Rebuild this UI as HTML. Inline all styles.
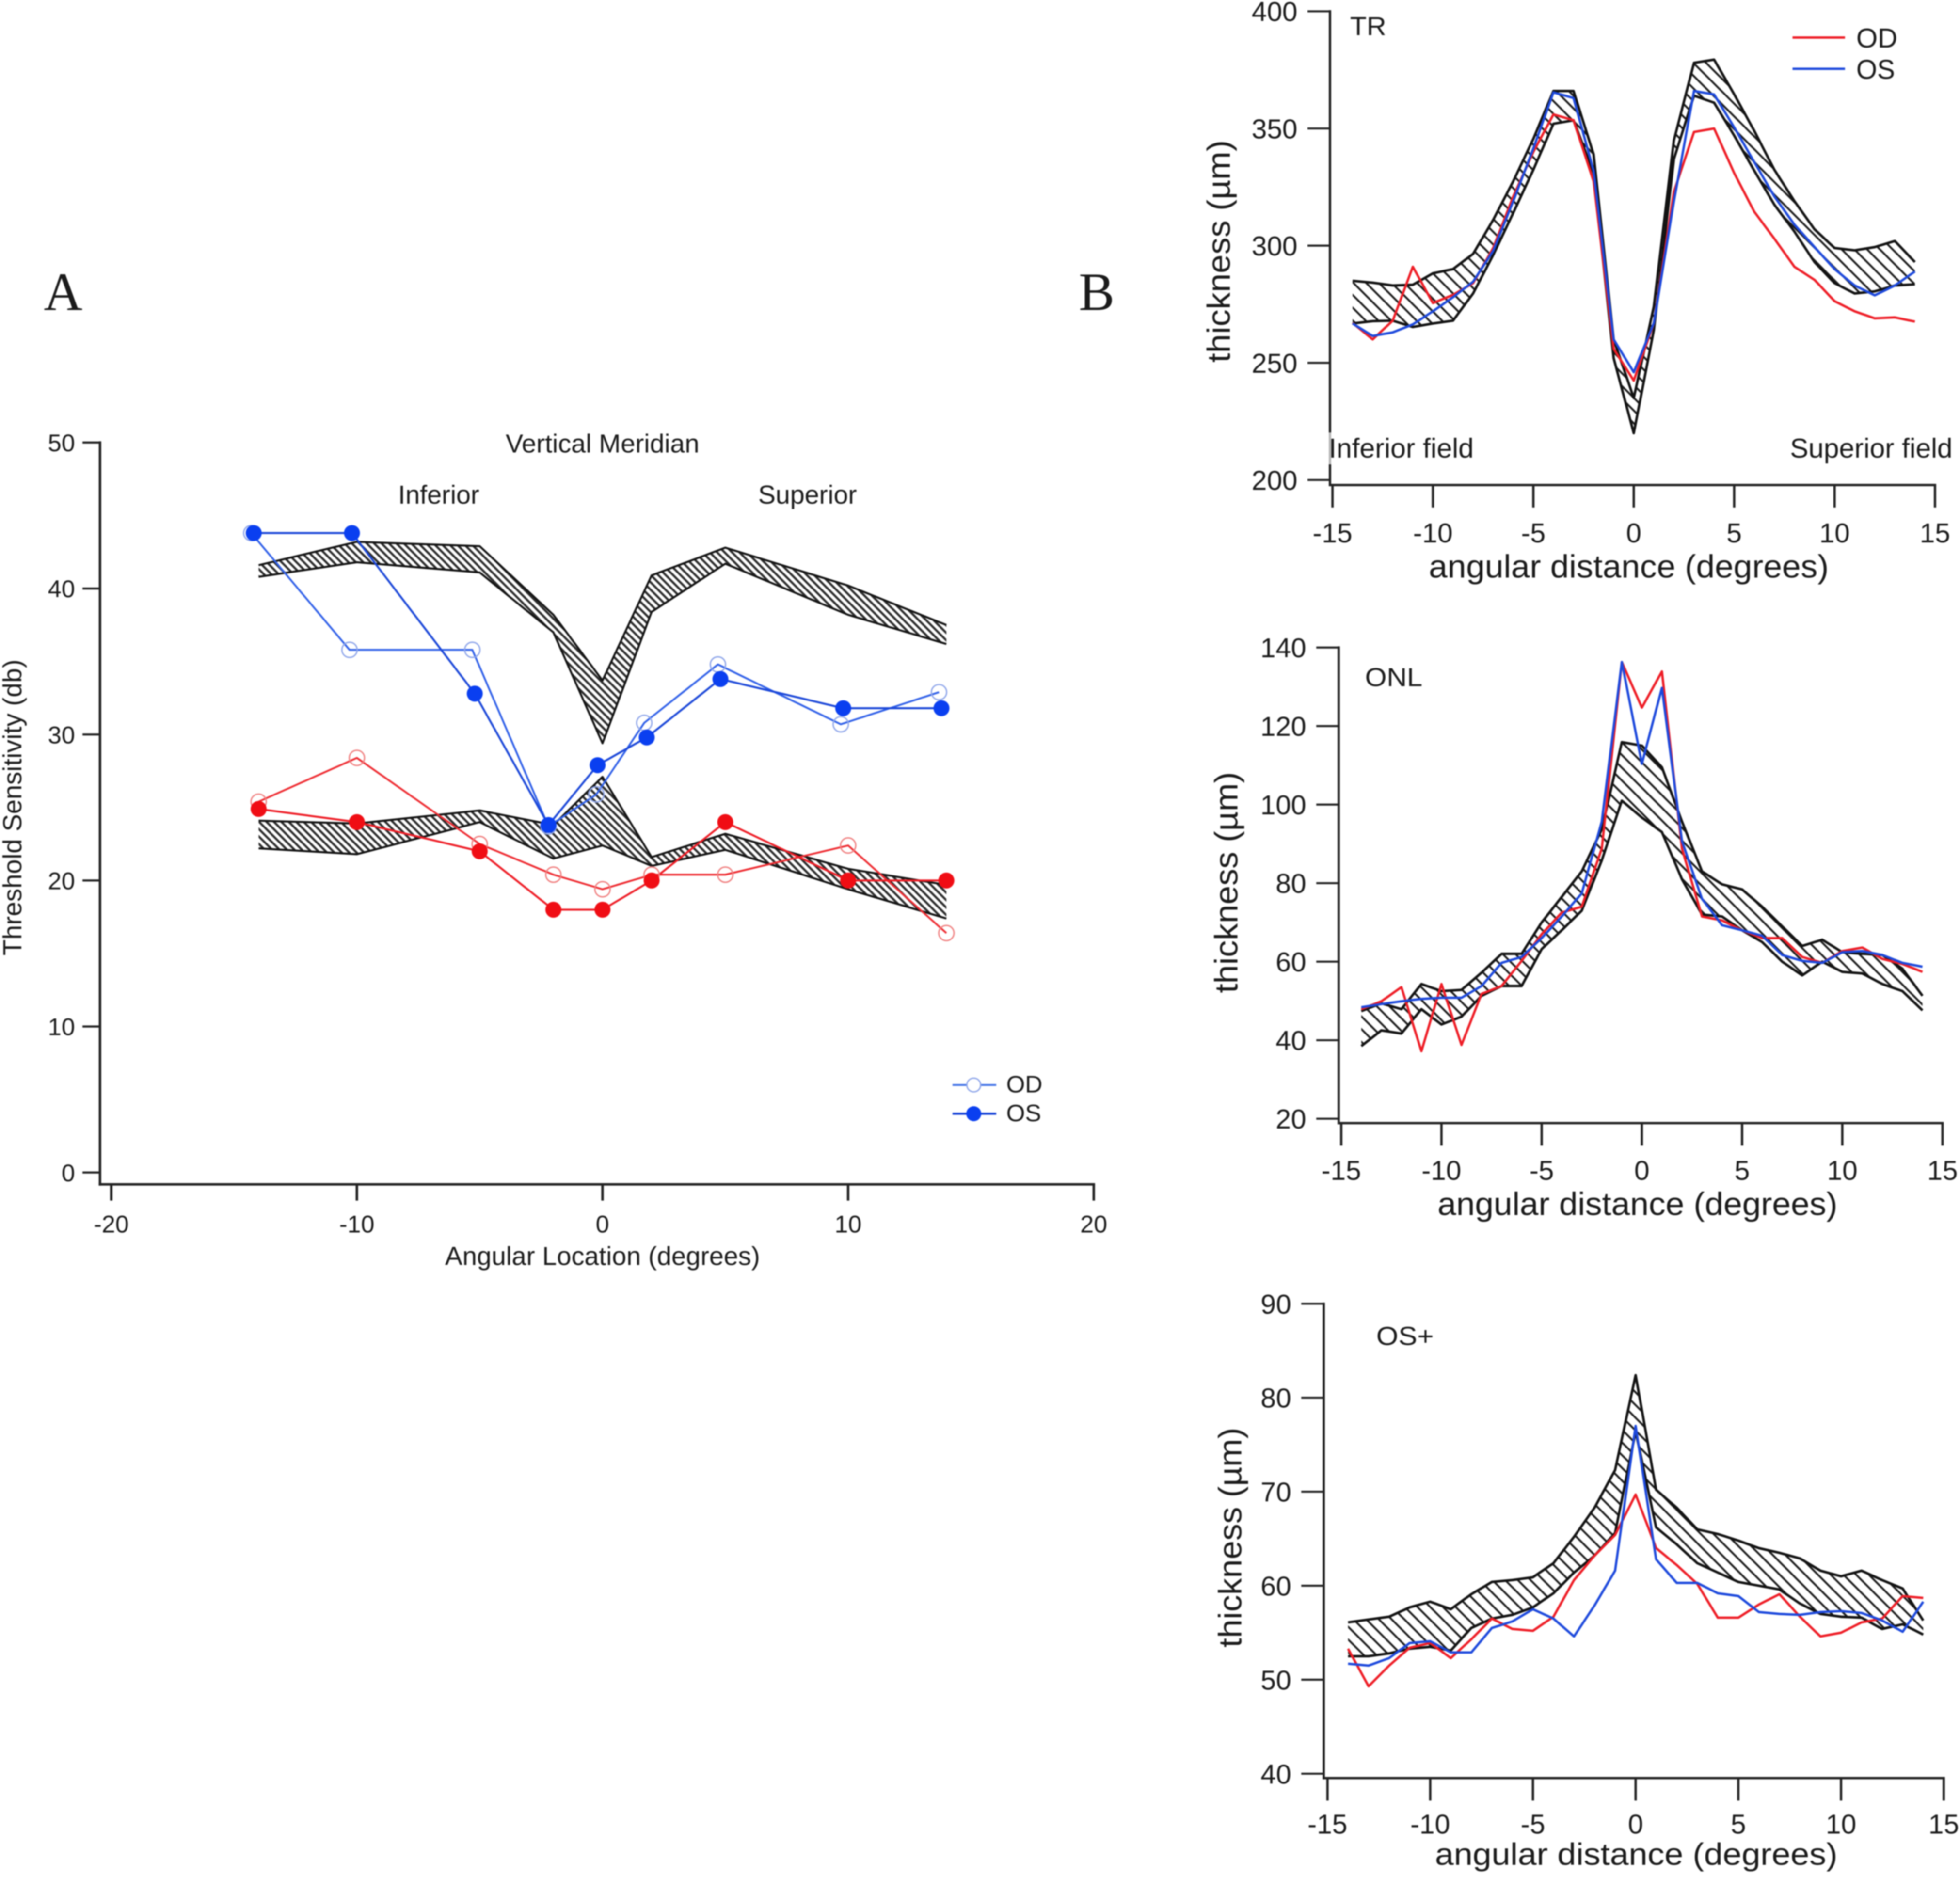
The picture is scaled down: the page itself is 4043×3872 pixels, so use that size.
<!DOCTYPE html>
<html lang="en">
<head>
<meta charset="utf-8">
<title>Threshold sensitivity and retinal thickness</title>
<style>
html,body{margin:0;padding:0;background:#fff;}
#figure{display:block;width:4043px;height:3872px;filter:blur(1.4px);}
text{font-family:"Liberation Sans",Arial,sans-serif;fill:#1a1a1a;}
</style>
</head>
<body>
<svg id="figure" xmlns="http://www.w3.org/2000/svg" width="4043" height="3872" viewBox="0 0 1568 1501.6">
  <defs>
    <pattern id="hatch-fine" width="4.2" height="4.2" patternUnits="userSpaceOnUse" patternTransform="rotate(-45)">
      <rect x="0" y="0" width="1.75" height="4.2" fill="#2a2a2a"></rect>
    </pattern>
    <pattern id="hatch-wide" width="7.2" height="7.2" patternUnits="userSpaceOnUse" patternTransform="rotate(-45)">
      <rect x="0" y="0" width="1.55" height="7.2" fill="#1a1a1a"></rect>
    </pattern>
  </defs>
  <rect x="0" y="0" width="1568" height="1501.6" fill="#fff"></rect>

  <text x="35" y="248" font-size="43" style="font-family:'Liberation Serif',serif">A</text>
  <text x="863" y="248" font-size="43" style="font-family:'Liberation Serif',serif">B</text>

  <g id="panel-a"></g>
  <g id="panel-tr"></g>
  <g id="panel-onl"></g>
  <g id="panel-os"></g>

  <text x="482" y="362" font-size="21" text-anchor="middle" textLength="155" lengthAdjust="spacingAndGlyphs">Vertical Meridian</text>
  <text x="351" y="403" font-size="21" text-anchor="middle" textLength="65" lengthAdjust="spacingAndGlyphs">Inferior</text>
  <text x="646" y="403" font-size="21" text-anchor="middle" textLength="79" lengthAdjust="spacingAndGlyphs">Superior</text>
  <text transform="translate(17,646) rotate(-90)" font-size="21" text-anchor="middle" textLength="237" lengthAdjust="spacingAndGlyphs">Threshold Sensitivity (db)</text>
  <text x="482" y="1012" font-size="21" text-anchor="middle" textLength="252" lengthAdjust="spacingAndGlyphs">Angular Location (degrees)</text>

  <line x1="762" x2="797" y1="868" y2="868" stroke="#3f6fe6" stroke-width="1.5"></line>
  <circle cx="779" cy="868" r="5.5" fill="#fff" stroke="#8fa6ea" stroke-width="1.1"></circle>
  <text x="805" y="874" font-size="19" textLength="29" lengthAdjust="spacingAndGlyphs">OD</text>
  <line x1="762" x2="797" y1="891" y2="891" stroke="#1a46d8" stroke-width="1.7"></line>
  <circle cx="779" cy="891" r="6" fill="#0a3ff0"></circle>
  <text x="805" y="897" font-size="19" textLength="28" lengthAdjust="spacingAndGlyphs">OS</text>

  <text x="1080" y="28" font-size="21" textLength="29" lengthAdjust="spacingAndGlyphs">TR</text>
  <rect x="1062" y="346" width="118" height="25.5" fill="#fff" fill-opacity="0.68"></rect>
  <text x="1063" y="366" font-size="22" textLength="116" lengthAdjust="spacingAndGlyphs">Inferior field</text>
  <text x="1432" y="366" font-size="22" textLength="130" lengthAdjust="spacingAndGlyphs">Superior field</text>
  <line x1="1434" x2="1476" y1="30" y2="30" stroke="#ee1c25" stroke-width="1.9"></line>
  <text x="1485" y="38" font-size="22" textLength="33" lengthAdjust="spacingAndGlyphs">OD</text>
  <line x1="1434" x2="1476" y1="55" y2="55" stroke="#1c48dc" stroke-width="1.9"></line>
  <text x="1485" y="63" font-size="22" textLength="31" lengthAdjust="spacingAndGlyphs">OS</text>

  <text x="1092" y="549" font-size="21" textLength="46" lengthAdjust="spacingAndGlyphs">ONL</text>
  <text x="1101" y="1076" font-size="21" textLength="46" lengthAdjust="spacingAndGlyphs">OS+</text>

  <text x="1303" y="462" font-size="26" text-anchor="middle" textLength="320" lengthAdjust="spacingAndGlyphs">angular distance (degrees)</text>
  <text transform="translate(984,201) rotate(-90)" font-size="26" text-anchor="middle" textLength="178" lengthAdjust="spacingAndGlyphs">thickness (µm)</text>
  <text x="1310" y="972" font-size="26" text-anchor="middle" textLength="320" lengthAdjust="spacingAndGlyphs">angular distance (degrees)</text>
  <text transform="translate(990,706) rotate(-90)" font-size="26" text-anchor="middle" textLength="177" lengthAdjust="spacingAndGlyphs">thickness (µm)</text>
  <text x="1309" y="1492" font-size="25" text-anchor="middle" textLength="322" lengthAdjust="spacingAndGlyphs">angular distance (degrees)</text>
  <text transform="translate(993,1230) rotate(-90)" font-size="26" text-anchor="middle" textLength="176" lengthAdjust="spacingAndGlyphs">thickness (µm)</text>
</svg>

<script>
/* ---------- Panel A data ---------- */
const sensXTicks = [-20, -10, 0, 10, 20];
const sensYTicks = [0, 10, 20, 30, 40, 50];
const bandX = [-14, -10, -5, -2, 0, 2, 5, 10, 14];
const highBandUpper = [41.6, 43.2, 42.9, 38.2, 33.7, 40.9, 42.8, 40.2, 37.5];
const highBandLower = [40.8, 41.8, 41.1, 37.0, 29.4, 38.4, 41.7, 38.2, 36.2];
const lowBandUpper = [24.1, 23.9, 24.8, 23.8, 27.1, 21.6, 23.2, 20.8, 19.7];
const lowBandLower = [22.2, 21.8, 24.0, 21.5, 22.4, 21.0, 22.1, 19.4, 17.4];
const blueOdX = [-14.3, -10.3, -5.3, -2.2, -0.25, 1.7, 4.7, 9.7, 13.7];
const blueOdY = [43.8, 35.8, 35.8, 23.7, 25.9, 30.8, 34.8, 30.7, 32.9];
const blueOsX = [-14.2, -10.2, -5.2, -2.2, -0.2, 1.8, 4.8, 9.8, 13.8];
const blueOsY = [43.8, 43.8, 32.8, 23.8, 27.9, 29.8, 33.8, 31.8, 31.8];
const redOdX = [-14, -10, -5, -2, 0, 2, 5, 10, 14];
const redOdY = [25.4, 28.4, 22.5, 20.4, 19.4, 20.4, 20.4, 22.4, 16.4];
const redOsX = [-14, -10, -5, -2, 0, 2, 5, 10, 14];
const redOsY = [24.9, 24.0, 22.0, 18.0, 18.0, 20.0, 24.0, 20.0, 20.0];

/* ---------- Panel B shared ---------- */
const degrees = [-14,-13,-12,-11,-10,-9,-8,-7,-6,-5,-4,-3,-2,-1,0,1,2,3,4,5,6,7,8,9,10,11,12,13,14];
const thicknessXTicks = [-15, -10, -5, 0, 5, 10, 15];

/* ---------- TR ---------- */
const trYTicks = [200, 250, 300, 350, 400];
const trUpper = [285,284.2,283,283.3,288.2,290,296.5,311,327.5,345.6,366,366,339,260,235,274,345,378,379.4,364.6,349,332.4,319,307,299,298,299.4,302,293];
const trLower = [266.8,267.8,268,265.3,266.8,268,279.6,296,314,332.4,352,353.5,331,252,220,264,337,364,361,347,332,317.5,306,293,284,279.6,280.5,283,283.5];
const trRed = [267,260,268,291,275.5,279,284,299,321,340,356,353.5,327.5,256,242.4,267,323,348.5,350,331,314.5,303,291,285.4,276.3,272,269,269.4,267.6];
const trBlue = [266.8,261.5,263,266.4,272,278,284.6,297.8,319,341.5,365.4,363,332,260,246,267,319,366,364.5,350.5,335.7,321,309,299.4,290,283,278.8,283,289];

/* ---------- ONL ---------- */
const onlYTicks = [20, 40, 60, 80, 100, 120, 140];
const onlUpper = [47.4,49.4,47.9,54.3,52.5,52.8,57.2,62,62,70,76.5,83,93.7,115.9,115,109.5,95.7,83,79.7,78.4,74,69,64,65.6,62.4,62,61.7,58.2,51.3];
const onlLower = [38.5,42.5,41.7,47.9,44,46,51.3,53.8,53.8,63.2,68,73,85.8,101,96.7,93,81,72,71.5,68,65,60,56.5,60,57.4,57,54.3,52.5,47.6];
const onlRed = [47.9,49.9,53.5,37.2,54.3,38.8,51.8,53.8,60.2,67,72.5,74,88.8,136.3,124.7,133.9,88.8,71.5,70.5,68,66,66,61.2,59.7,62.7,63.6,60.7,59.4,57.4];
const onlBlue = [48.4,49.2,49.9,50.5,50.8,50.8,53.8,59.7,61.2,66,71.5,77.4,95.7,136.3,110.4,129.7,90.7,76,69.3,68,66.6,61.7,60.2,59.7,62.4,62.7,61.7,59.7,58.7];

/* ---------- OS+ ---------- */
const osYTicks = [40, 50, 60, 70, 80, 90];
const osUpper = [56.1,56.4,56.7,57.7,58.3,57.5,59.1,60.4,60.6,60.9,62.4,65.2,68.3,72.3,82.4,70.2,68.3,66,65.5,64.8,64,63.5,62.9,61.6,61,61.6,60.6,59.7,56.3];
const osLower = [52.5,52.5,52.8,53.3,53.5,53.1,55.5,56.5,56.9,57.7,59.2,61.4,63.2,65.6,76.4,66.2,64.4,62.4,61.4,60.4,60,59.6,58.1,57,56.7,56.6,55.4,55.9,54.8];
const osRed = [53.3,49.3,51.5,53.4,53.9,52.3,54.3,56.5,55.4,55.2,56.7,60.6,63.2,65.4,69.7,64,62.2,60.2,56.6,56.6,58,59.1,56.7,54.6,55,56.1,56.5,58.9,58.7];
const osBlue = [51.7,51.5,52.3,53.9,54.1,52.9,52.9,55.5,56.2,57.5,56.5,54.6,57.9,61.6,77,62.8,60.3,60.3,59.2,58.9,57.2,57,56.9,57.2,57.3,57.1,56.3,55.1,58.3];

const SVGNS = 'http://www.w3.org/2000/svg';
function linear(d0, d1, r0, r1) {
  return function (v) { return r0 + (v - d0) * (r1 - r0) / (d1 - d0); };
}
function shape(parent, tag, attrs) {
  const el = document.createElementNS(SVGNS, tag);
  for (const k in attrs) el.setAttribute(k, attrs[k]);
  parent.appendChild(el);
  return el;
}
function pts(xs, ys, sx, sy) {
  return xs.map(function (x, i) { return sx(x).toFixed(2) + ',' + sy(ys[i]).toFixed(2); }).join(' ');
}

function drawAxes(g, opt) {
  const half = opt.axisW / 2;
  const yAxis = shape(g, 'line', {x1: opt.axisX, x2: opt.axisX, y1: opt.sy(opt.yTicks[opt.yTicks.length - 1]) - half, y2: opt.axisY + half, stroke: '#222', 'stroke-width': opt.axisW});
  
  
  const xAxis = shape(g, 'line', {x1: opt.axisX - half, x2: opt.sx(opt.xTicks[opt.xTicks.length - 1]) + half, y1: opt.axisY, y2: opt.axisY, stroke: '#222', 'stroke-width': opt.axisW});
  
  
  opt.yTicks.forEach(function (t) {
    const tick = shape(g, 'line', {x1: opt.axisX - opt.yTickLen, x2: opt.axisX, y1: opt.sy(t), y2: opt.sy(t), stroke: '#222', 'stroke-width': opt.axisW * 0.85});
    
    
    const label = shape(g, 'text', {x: opt.axisX - opt.yLabelGap, y: opt.sy(t) + opt.font * 0.36, 'font-size': opt.font, 'text-anchor': 'end'});
    
    
    label.textContent = t;
  });
  opt.xTicks.forEach(function (t) {
    const tick = shape(g, 'line', {x1: opt.sx(t), x2: opt.sx(t), y1: opt.axisY, y2: opt.axisY + opt.xTickLen, stroke: '#222', 'stroke-width': opt.axisW});
    
    
    const label = shape(g, 'text', {x: opt.sx(t), y: opt.xLabelY, 'font-size': opt.font, 'text-anchor': 'middle'});
    
    
    label.textContent = t;
  });
}

function drawBand(g, xs, upper, lower, sx, sy, hatch, w) {
  const area = shape(g, 'polygon', {
    points: pts(xs, upper, sx, sy) + ' ' + pts(xs.slice().reverse(), lower.slice().reverse(), sx, sy),
    fill: 'url(#' + hatch + ')'
  });
  
  
  const top = shape(g, 'polyline', {points: pts(xs, upper, sx, sy), fill: 'none', stroke: '#111', 'stroke-width': w, 'stroke-linejoin': 'round'});
  
  
  const bottom = shape(g, 'polyline', {points: pts(xs, lower, sx, sy), fill: 'none', stroke: '#111', 'stroke-width': w, 'stroke-linejoin': 'round'});
  
  
}

function drawLine(g, xs, ys, sx, sy, color, w, name) {
  const line = shape(g, 'polyline', {points: pts(xs, ys, sx, sy), fill: 'none', stroke: color, 'stroke-width': w, 'stroke-linejoin': 'round'});
  
  
}

function drawOpen(g, xs, ys, sx, sy, color, name) {
  xs.forEach(function (x, i) {
    const c = shape(g, 'circle', {cx: sx(x), cy: sy(ys[i]), r: 6.1, fill: 'none', stroke: color, 'stroke-width': 1.1});
    
    
  });
}
function drawFilled(g, xs, ys, sx, sy, color, name) {
  xs.forEach(function (x, i) {
    const c = shape(g, 'circle', {cx: sx(x), cy: sy(ys[i]), r: 6.4, fill: color});
    
    
  });
}

/* Panel A */
(function () {
  const g = document.getElementById('panel-a');
  const sx = linear(-20, 20, 89, 875);
  const sy = linear(0, 50, 938, 354);
  drawAxes(g, {sx: sx, sy: sy, xTicks: sensXTicks, yTicks: sensYTicks, axisX: 80, axisY: 947.5, axisW: 2, yTickLen: 14, xTickLen: 13, yLabelGap: 20, xLabelY: 986, font: 19.5});
  drawBand(g, bandX, highBandUpper, highBandLower, sx, sy, 'hatch-fine', 1.6);
  drawBand(g, bandX, lowBandUpper, lowBandLower, sx, sy, 'hatch-fine', 1.6);
  drawLine(g, blueOdX, blueOdY, sx, sy, '#2f5fe8', 1.5, 'blue-od-line');
  drawLine(g, blueOsX, blueOsY, sx, sy, '#1a46d8', 1.6, 'blue-os-line');
  drawLine(g, redOdX, redOdY, sx, sy, '#ee2a30', 1.5, 'red-od-line');
  drawLine(g, redOsX, redOsY, sx, sy, '#ee1c25', 1.6, 'red-os-line');
  drawOpen(g, blueOdX, blueOdY, sx, sy, '#8fa6ea', 'blue-od-marker');
  drawOpen(g, redOdX, redOdY, sx, sy, '#f08080', 'red-od-marker');
  drawFilled(g, blueOsX, blueOsY, sx, sy, '#0a3ff0', 'blue-os-marker');
  drawFilled(g, redOsX, redOsY, sx, sy, '#f00d14', 'red-os-marker');
})();

/* TR */
(function () {
  const g = document.getElementById('panel-tr');
  const sx = linear(-15, 15, 1066, 1548);
  const sy = linear(200, 400, 384, 9);
  drawAxes(g, {sx: sx, sy: sy, xTicks: thicknessXTicks, yTicks: trYTicks, axisX: 1064, axisY: 388, axisW: 1.9, yTickLen: 18, xTickLen: 18, yLabelGap: 26, xLabelY: 434, font: 22});
  drawBand(g, degrees, trUpper, trLower, sx, sy, 'hatch-wide', 2);
  drawLine(g, degrees, trRed, sx, sy, '#ee1c25', 1.9, 'tr-od-line');
  drawLine(g, degrees, trBlue, sx, sy, '#1c48dc', 1.9, 'tr-os-line');
})();

/* ONL */
(function () {
  const g = document.getElementById('panel-onl');
  const sx = linear(-15, 15, 1073, 1554);
  const sy = linear(20, 140, 895, 518);
  drawAxes(g, {sx: sx, sy: sy, xTicks: thicknessXTicks, yTicks: onlYTicks, axisX: 1071, axisY: 898.5, axisW: 1.9, yTickLen: 18, xTickLen: 18, yLabelGap: 26, xLabelY: 944, font: 22});
  drawBand(g, degrees, onlUpper, onlLower, sx, sy, 'hatch-wide', 2);
  drawLine(g, degrees, onlRed, sx, sy, '#ee1c25', 1.9, 'onl-od-line');
  drawLine(g, degrees, onlBlue, sx, sy, '#1c48dc', 1.9, 'onl-os-line');
})();

/* OS+ */
(function () {
  const g = document.getElementById('panel-os');
  const sx = linear(-15, 15, 1062, 1555);
  const sy = linear(40, 90, 1419, 1043);
  drawAxes(g, {sx: sx, sy: sy, xTicks: thicknessXTicks, yTicks: osYTicks, axisX: 1059, axisY: 1422.5, axisW: 1.9, yTickLen: 18, xTickLen: 18, yLabelGap: 26, xLabelY: 1467, font: 22});
  drawBand(g, degrees, osUpper, osLower, sx, sy, 'hatch-wide', 2);
  drawLine(g, degrees, osRed, sx, sy, '#ee1c25', 1.9, 'os-plus-od-line');
  drawLine(g, degrees, osBlue, sx, sy, '#1c48dc', 1.9, 'os-plus-os-line');
})();
</script>
</body>
</html>
